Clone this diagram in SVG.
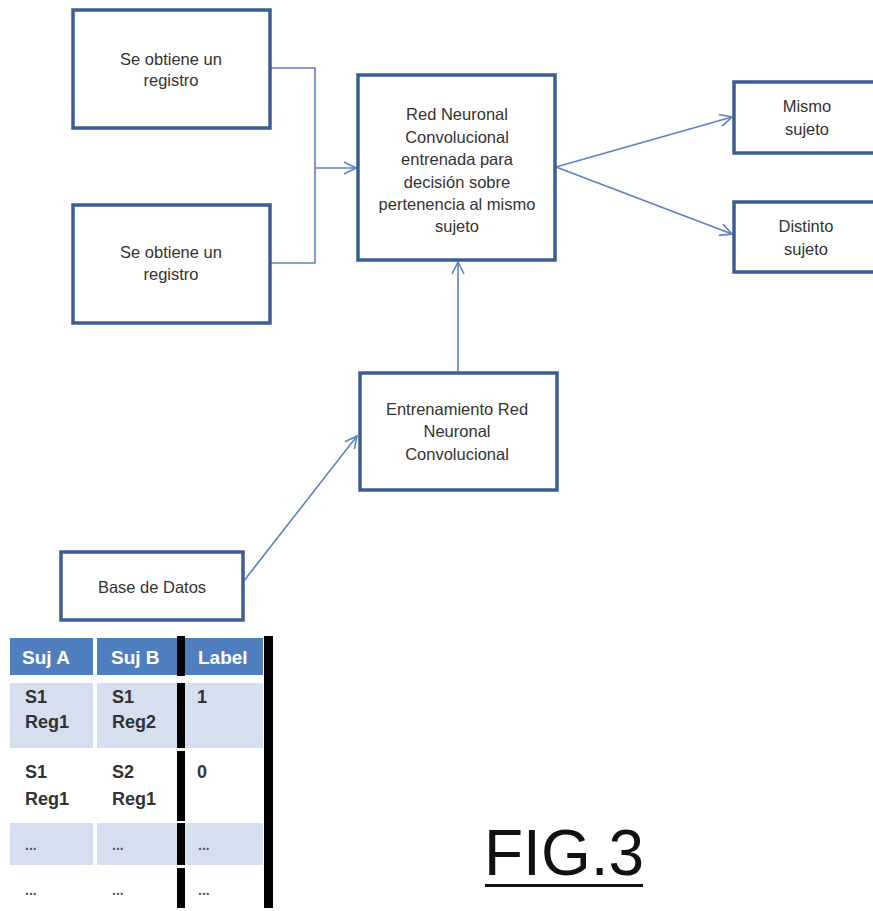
<svg xmlns="http://www.w3.org/2000/svg" width="873" height="911" viewBox="0 0 873 911">
<style>
.box{fill:#fff;stroke:#3c5f93;stroke-width:3.5}
.t{font-family:"Liberation Sans",Arial,sans-serif;font-size:16.5px;fill:#333;text-anchor:middle}
.c{fill:none;stroke:#5b82c2;stroke-width:1.6}
.th{font-family:"Liberation Sans",Arial,sans-serif;font-size:19px;font-weight:bold;fill:#fff}
.td{font-family:"Liberation Sans",Arial,sans-serif;font-size:18px;font-weight:bold;fill:#333}
.dots{font-family:"Liberation Sans",Arial,sans-serif;font-size:14px;font-weight:bold;fill:#555}
</style>
<defs>
<marker id="arr" viewBox="0 0 14 14" refX="13" refY="7" markerWidth="14" markerHeight="14" markerUnits="userSpaceOnUse" orient="auto">
<path d="M1,1 L13,7 L1,13" fill="none" stroke="#5b82c2" stroke-width="1.6"/>
</marker>
</defs>
<rect width="873" height="911" fill="#fff"/>
<g id="connectors">
<polyline class="c" points="270,68 315,68 315,263 270,263"/>
<line class="c" x1="315" y1="168" x2="356" y2="168" marker-end="url(#arr)"/>
<line class="c" x1="556" y1="167" x2="732" y2="117" marker-end="url(#arr)"/>
<line class="c" x1="556" y1="167" x2="732" y2="234" marker-end="url(#arr)"/>
<line class="c" x1="458" y1="372" x2="458" y2="262" marker-end="url(#arr)"/>
<line class="c" x1="243" y1="582" x2="357" y2="436" marker-end="url(#arr)"/>
</g>
<g id="registro1">
<rect class="box" x="73" y="10" width="197" height="118"/>
<text class="t" x="171" y="65">Se obtiene un</text>
<text class="t" x="171" y="86">registro</text>
</g>
<g id="registro2">
<rect class="box" x="73" y="205" width="197" height="118"/>
<text class="t" x="171" y="258">Se obtiene un</text>
<text class="t" x="171" y="280">registro</text>
</g>
<g id="red">
<rect class="box" x="358" y="75" width="197" height="185"/>
<text class="t" x="457" y="120">Red Neuronal</text>
<text class="t" x="457" y="143">Convolucional</text>
<text class="t" x="457" y="165">entrenada para</text>
<text class="t" x="457" y="188">decisión sobre</text>
<text class="t" x="457" y="210">pertenencia al mismo</text>
<text class="t" x="457" y="232">sujeto</text>
</g>
<g id="mismo">
<rect class="box" x="734" y="82" width="150" height="71"/>
<text class="t" x="807" y="112">Mismo</text>
<text class="t" x="807" y="135">sujeto</text>
</g>
<g id="distinto">
<rect class="box" x="734" y="202" width="150" height="70"/>
<text class="t" x="806" y="232">Distinto</text>
<text class="t" x="806" y="255">sujeto</text>
</g>
<g id="entrenamiento">
<rect class="box" x="360" y="373" width="197" height="117"/>
<text class="t" x="457" y="415">Entrenamiento Red</text>
<text class="t" x="457" y="437">Neuronal</text>
<text class="t" x="457" y="460">Convolucional</text>
</g>
<g id="base">
<rect class="box" x="61" y="552" width="182" height="68"/>
<text class="t" x="152" y="593">Base de Datos</text>
</g>
<g id="tabla">
<rect x="10" y="638" width="83" height="37" fill="#4f7fbf"/>
<rect x="97" y="638" width="80" height="37" fill="#4f7fbf"/>
<rect x="185" y="638" width="78" height="37" fill="#4f7fbf"/>
<rect x="10" y="683" width="83" height="65" fill="#d6dff0"/>
<rect x="97" y="683" width="80" height="65" fill="#d6dff0"/>
<rect x="185" y="683" width="78" height="65" fill="#d6dff0"/>
<rect x="10" y="823" width="83" height="42" fill="#d6dff0"/>
<rect x="97" y="823" width="80" height="42" fill="#d6dff0"/>
<rect x="185" y="823" width="78" height="42" fill="#d6dff0"/>
<rect x="177" y="636" width="8" height="40" fill="#000"/>
<rect x="177" y="683" width="8" height="65" fill="#000"/>
<rect x="177" y="751" width="8" height="70" fill="#000"/>
<rect x="177" y="823" width="8" height="42" fill="#000"/>
<rect x="177" y="868" width="8" height="40" fill="#000"/>
<rect x="264" y="636" width="9" height="272" fill="#000"/>
<text class="th" x="22" y="664">Suj A</text>
<text class="th" x="111" y="664">Suj B</text>
<text class="th" x="198" y="664">Label</text>
<text class="td" x="25" y="703">S1</text>
<text class="td" x="25" y="728">Reg1</text>
<text class="td" x="112" y="703">S1</text>
<text class="td" x="112" y="728">Reg2</text>
<text class="td" x="197" y="703">1</text>
<text class="td" x="25" y="778">S1</text>
<text class="td" x="25" y="805">Reg1</text>
<text class="td" x="112" y="778">S2</text>
<text class="td" x="112" y="805">Reg1</text>
<text class="td" x="197" y="778">0</text>
<text class="dots" x="25" y="850">...</text>
<text class="dots" x="112" y="850">...</text>
<text class="dots" x="198" y="850">...</text>
<text class="dots" x="25" y="895">...</text>
<text class="dots" x="112" y="895">...</text>
<text class="dots" x="198" y="895">...</text>
</g>
<g id="fig">
<text x="484" y="875" font-family="Liberation Sans,Arial,sans-serif" font-size="64" fill="#111">FIG.3</text>
<rect x="485" y="884" width="158" height="3" fill="#111"/>
</g>
</svg>
